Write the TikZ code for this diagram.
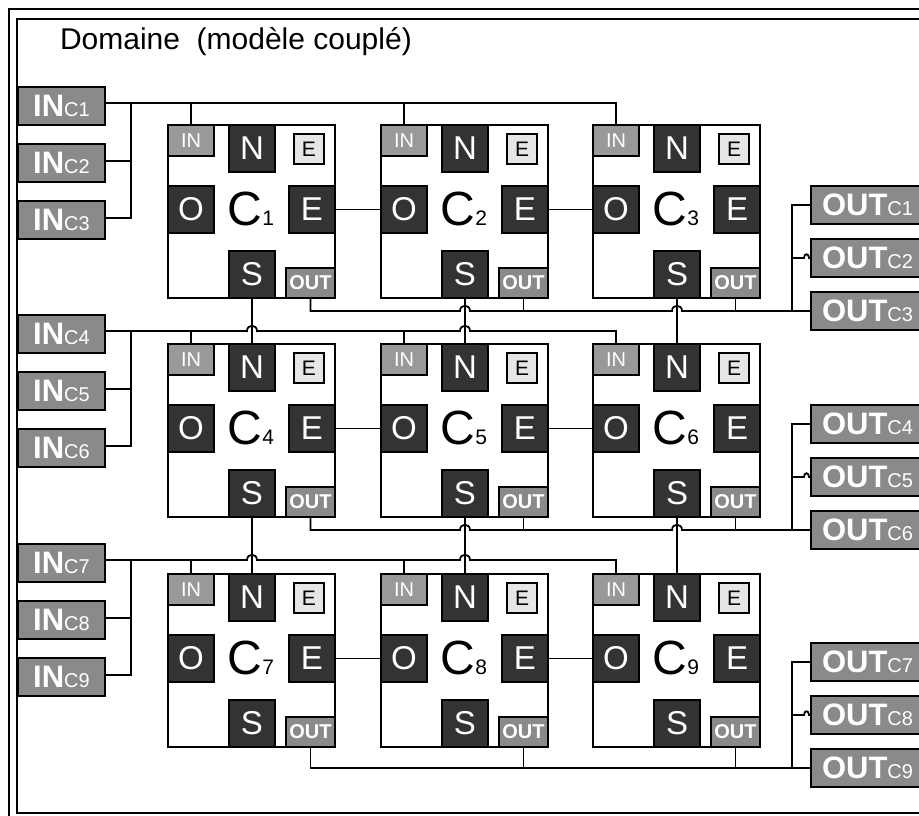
\documentclass[tikz,border=0pt]{standalone}
\usepackage{fontspec}
\setmainfont{Liberation Sans}
\usetikzlibrary{calc}
\definecolor{dark}{HTML}{333333}
\definecolor{midgray}{HTML}{8A8A8A}
\definecolor{ingray}{HTML}{999999}
\definecolor{light}{HTML}{E6E6E6}
\newcommand\myfs[1]{\fontsize{#1}{#1}\selectfont}
\begin{document}
\begin{tikzpicture}[x=1pt,y=-1pt,
  every node/.style={inner sep=0pt, outer sep=0pt},
  conn/.style={line width=1.8pt, black},
  cell/.style={draw=black, fill=white, line width=1.8pt, anchor=north west, minimum width=167, minimum height=173},
  port/.style={draw=black, line width=1.4pt, anchor=north west},
  dport/.style={port, fill=dark, text=white, minimum width=46, minimum height=47, font=\myfs{33}},
  inport/.style={port, fill=ingray, text=white, minimum width=46, minimum height=31, font=\myfs{20}},
  esport/.style={port, fill=light, text=black, minimum width=30, minimum height=30, font=\myfs{21}},
  outport/.style={port, fill=midgray, text=white, minimum width=49, minimum height=30, font=\bfseries\myfs{20}},
  inc/.style={port, fill=midgray, text=white, minimum width=87, minimum height=38},
  outc/.style={port, fill=midgray, text=white, minimum height=38, text width=112, inner xsep=11, align=left},
  clabel/.style={anchor=base, font=\myfs{48}},
]
\useasboundingbox (0,0) rectangle (919,816);
\clip (0,0) rectangle (919,816);
\fill[white] (0,0) rectangle (919,816);
% frame
\draw[line width=2pt] (9,9) rectangle (940,840);
\draw[line width=2pt] (17,19) rectangle (935,813);
\node[anchor=base west, font=\myfs{30}] (title) at (60,50) {Domaine\ \ (modèle couplé)};

% cells
\foreach \i/\X/\Y in {1/168/125,2/381/125,3/593/125,4/168/344,5/381/344,6/593/344,7/168/574,8/381/574,9/593/574}{
  \node[cell] (C\i) at (\X,\Y) {};
  \node[inport] (IN\i) at (\X,\Y) {IN};
  \node[dport] (N\i) at (\X+61,\Y) {N};
  \node[esport] (Es\i) at (\X+126,\Y+9) {E};
  \node[dport] (O\i) at (\X,\Y+61) {O};
  \node[dport] (E\i) at (\X+121,\Y+61) {E};
  \node[dport] (S\i) at (\X+61,\Y+126) {S};
  \node[outport] (OUT\i) at (\X+118,\Y+143) {OUT};
  \node[clabel] (L\i) at (\X+83,\Y+100) {C{\myfs{21}\i}};
}

% left input boxes
\foreach \i/\Y in {1/87,2/144,3/201,4/315,5/372,6/429,7/544,8/601,9/658}{
  \node[inc] (INc\i) at (18,\Y) {{\bfseries\myfs{31}IN}{\myfs{20}C\i}};
}
% right output boxes
\foreach \i/\Y in {1/186,2/239,3/292,4/405,5/458,6/511,7/643,8/696,9/749}{
  \node[outc] (OUTc\i) at (811,\Y) {{\bfseries\myfs{31}OUT}{\myfs{20}C\i}};
}

% E -> O links
\foreach \a/\b in {1/2,2/3,4/5,5/6,7/8,8/9}{
  \draw[conn] (E\a.east) -- (O\b.west);
}
% S -> N links
\foreach \a/\b in {1/4,2/5,3/6,4/7,5/8,6/9}{
  \draw[conn] (S\a.south) -- (N\b.north);
}

% input buses
\coordinate (inj0) at (131,103);
\coordinate (inj1) at (131,331);
\coordinate (inj2) at (131,560);
\draw[conn] ([yshift=3pt]INc1.east) -| (IN3.north);
\draw[conn] ([yshift=3pt]INc4.east) -- (247,331) .. controls (247,324) and (257,324) .. (257,331)
  -- (460,331) .. controls (460,324) and (470,324) .. (470,331) -| (IN6.north);
\draw[conn] ([yshift=3pt]INc7.east) -- (247,560) .. controls (247,553) and (257,553) .. (257,560)
  -- (460,560) .. controls (460,553) and (470,553) .. (470,560) -| (IN9.north);
\foreach \a/\j in {1/0,2/0,4/1,5/1,7/2,8/2}{
  \draw[conn] (IN\a.north) -- (IN\a.north |- inj\j);
}
\foreach \m/\l/\j in {2/3/0,5/6/1,8/9/2}{
  \draw[conn] ([yshift=2pt]INc\m.east) -- ([yshift=2pt]INc\m.east -| inj\j);
  \draw[conn] ([yshift=2pt]INc\l.east) -| (inj\j);
}

% output buses
\coordinate (outj0) at (792,311);
\coordinate (outj1) at (792,530);
\coordinate (outj2) at (792,768);
\draw[conn] (OUT1.south) |- (460,311) .. controls (460,304) and (470,304) .. (470,311)
  -- (672,311) .. controls (672,304) and (682,304) .. (682,311) -- (OUTc3.west);
\draw[conn] (OUT4.south) |- (460,530) .. controls (460,523) and (470,523) .. (470,530)
  -- (672,530) .. controls (672,523) and (682,523) .. (682,530) -- (OUTc6.west);
\draw[conn] (OUT7.south) |- (OUTc9.west);
\foreach \a/\b in {2/3,3/3,5/6,6/6,8/9,9/9}{
  \draw[conn] (OUT\a.south) -- (OUT\a.south |- OUTc\b.west);
}
\foreach \f/\m/\j in {1/2/0,4/5/1,7/8/2}{
  \draw[conn] (OUTc\f.west) -| (outj\j);
  \draw[conn] (OUTc\m.west) -- ($(OUTc\m.west)+(-2,0)$)
    .. controls ($(OUTc\m.west)+(-2,-5)$) and ($(OUTc\m.west)+(-7,-5)$) .. ($(OUTc\m.west)+(-7,0)$)
    -- (OUTc\m.west -| outj\j);
}
\end{tikzpicture}
\end{document}
